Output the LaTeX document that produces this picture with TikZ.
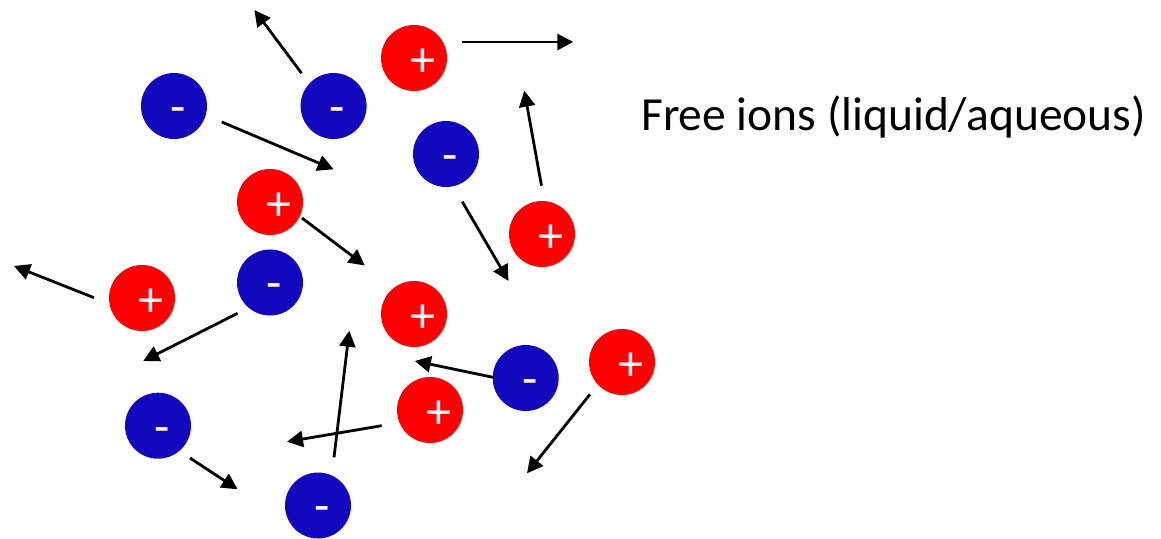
\documentclass[tikz,border=0pt]{standalone}
\usepackage{fontspec}
\setmainfont{Carlito}
\usetikzlibrary{arrows.meta}
\definecolor{anionblue}{RGB}{18,8,190}

\begin{document}
\begin{tikzpicture}[x=1pt, y=-1pt, >={Triangle[length=16pt, width=16pt]},
    ion/.style={circle, minimum size=66pt, inner sep=0pt},
    cation/.style={ion, fill=red},
    anion/.style={ion, fill=anionblue},
    sign/.style={text=white, inner sep=0pt, font=\fontsize{50}{50}\selectfont},
    motion/.style={->, line width=2.8pt}]
    \useasboundingbox (0,0) rectangle (1161,538);
    % positive ions
    \foreach \n/\x/\y in {1/414/58, 2/270/202, 3/542/234, 4/142/298,
                          5/414/314, 6/622/362, 7/430/410} {
      \node[cation] (cat\n) at (\x,\y) {};
      \node[sign] at ([shift={(8.5,4.5)}]cat\n) {+};
    }
    % negative ions
    \foreach \n/\x/\y in {1/174/106, 2/333.6/106, 3/446/154, 4/270/282.5,
                          5/525.7/378, 6/158/425.7, 7/318/505.5} {
      \node[anion] (an\n) at (\x,\y) {};
      \node[sign] at ([shift={(4,9.5)}]an\n) {-};
    }
    % random motion
    \foreach \a/\b in {{301.6,73.3}/{254.4,10}, {462,42}/{573.3,42},
                       {221.8,122}/{333.6,169.3}, {541.5,185.7}/{524.3,90.7},
                       {302,218}/{364.8,265.5}, {462.3,201.7}/{508.5,281},
                       {94,297.7}/{14,266}, {237.6,313.3}/{143.2,361},
                       {493,377.3}/{414.8,361}, {334,457.3}/{349.3,330.7},
                       {381.7,425.7}/{287,441.7}, {590,394.3}/{527,473.3},
                       {190,458}/{237.6,489.3}} {
      \draw[motion] (\a) -- (\b);
    }
    \node[anchor=base west, inner sep=0pt, font=\fontsize{47.5}{57}\selectfont]
      (title) at (641,130) {Free ions (liquid/aqueous)};
  \end{tikzpicture}
\end{document}
